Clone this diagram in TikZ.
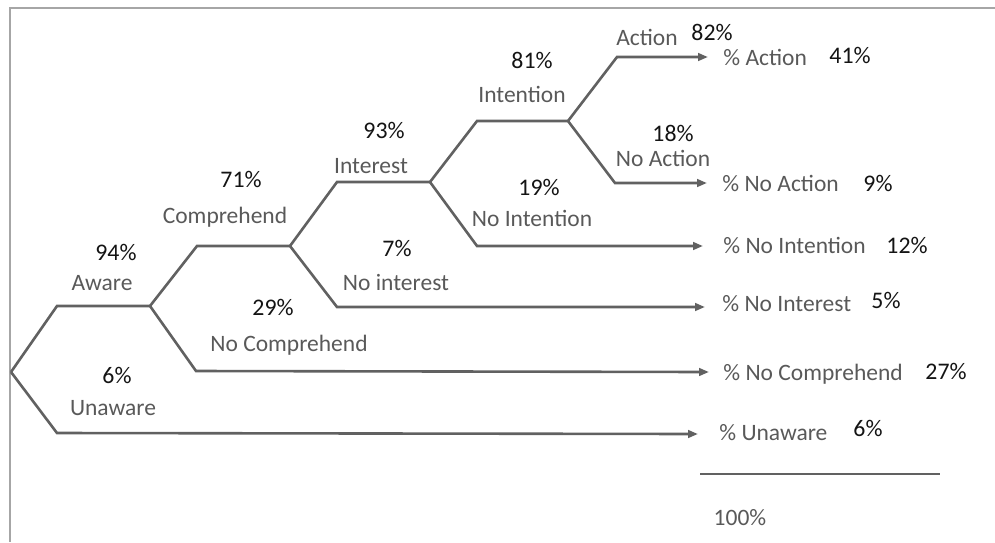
\documentclass[tikz,border=0pt]{standalone}
\usepackage{fontspec}
\setmainfont{Carlito}
\usetikzlibrary{arrows.meta}
\begin{document}
\begin{tikzpicture}[x=0.5pt,y=-0.5pt,
  frame/.style={draw=black!35, line width=0.8pt},
  branch/.style={draw=black!62, line width=1.3pt, line join=miter},
  arr/.style={branch, -{Triangle[length=5pt,width=3.8pt]}},
  word/.style={text=black!65, font=\fontsize{11.75}{14}\selectfont, inner sep=0pt, anchor=base},
  pct/.style={text=black!92, font=\fontsize{11.9}{14}\selectfont, inner sep=0pt, anchor=base},
  wordw/.style={word, anchor=base west},
]
\useasboundingbox (0,0) rectangle (995,542);
\coordinate (tl) at (10,8);
\coordinate (tr) at (995,8);
\coordinate (bl) at (10,542);
\draw[frame] (tr) -- (tl) -- (bl);

% tree vertices
\coordinate (root) at (11,372);
\coordinate (aw1) at (57,306);  \coordinate (aw2) at (150,306);
\coordinate (un1) at (57,433);  \coordinate (unE) at (698,434);
\coordinate (co1) at (197,246); \coordinate (co2) at (290,246);
\coordinate (nc1) at (196,371); \coordinate (ncE) at (709,372);
\coordinate (in1) at (337,182); \coordinate (in2) at (430,182);
\coordinate (ni1) at (337,307); \coordinate (niE) at (705,307);
\coordinate (it1) at (477,121); \coordinate (it2) at (568,121);
\coordinate (nt1) at (477,246); \coordinate (ntE) at (703,246);
\coordinate (ac1) at (617,57);  \coordinate (acE) at (708,57);
\coordinate (na1) at (615,183); \coordinate (naE) at (707,183);

\draw[branch] (root) -- (aw1) -- (aw2);
\draw[arr] (root) -- (un1) -- (unE);
\draw[branch] (aw2) -- (co1) -- (co2);
\draw[arr] (aw2) -- (nc1) -- (ncE);
\draw[branch] (co2) -- (in1) -- (in2);
\draw[arr] (co2) -- (ni1) -- (niE);
\draw[branch] (in2) -- (it1) -- (it2);
\draw[arr] (in2) -- (nt1) -- (ntE);
\draw[arr] (it2) -- (ac1) -- (acE);
\draw[arr] (it2) -- (na1) -- (naE);

% branch labels
\node[pct]  (p94) at (116,260) {94\%};
\node[word] (lAware) at (102,290) {Aware};
\node[pct]  (p71) at (241,187) {71\%};
\node[word] (lComp) at (225,223) {Comprehend};
\node[pct]  (p93) at (384,138) {93\%};
\node[word] (lInt) at (371,173) {Interest};
\node[pct]  (p81) at (532,68) {81\%};
\node[word] (lIntn) at (522,102) {Intention};
\node[word] (lAct) at (647,45) {Action};
\node[pct]  (p82) at (712,40) {82\%};
\node[pct]  (p18) at (673,141) {18\%};
\node[word] (lNoAct) at (663,166) {No Action};
\node[pct]  (p19) at (539,195) {19\%};
\node[word] (lNoIntn) at (532,226) {No Intention};
\node[pct]  (p7) at (397,256) {7\%};
\node[word] (lNoInt) at (396,290) {No interest};
\node[pct]  (p29) at (273,315) {29\%};
\node[word] (lNoComp) at (289,351) {No Comprehend};
\node[pct]  (p6) at (117,383) {6\%};
\node[word] (lUnaw) at (113,415) {Unaware};

% outcome labels
\node[wordw] (oAct) at (723,65) {\% Action};
\node[pct]   (o41) at (850,63) {41\%};
\node[wordw] (oNoAct) at (722,191) {\% No Action};
\node[pct]   (o9) at (878,191) {9\%};
\node[wordw] (oNoIntn) at (723,253) {\% No Intention};
\node[pct]   (o12) at (907,253) {12\%};
\node[wordw] (oNoInt) at (722,311) {\% No Interest};
\node[pct]   (o5) at (886,308) {5\%};
\node[wordw] (oNoComp) at (723,380) {\% No Comprehend};
\node[pct]   (o27) at (946,379) {27\%};
\node[wordw] (oUnaw) at (719,440) {\% Unaware};
\node[pct]   (o6) at (868,436) {6\%};

\coordinate (sumL) at (700,474);
\coordinate (sumR) at (940,474);
\draw[branch] (sumL) -- (sumR);
\node[word] (tot) at (740,525) {100\%};
\end{tikzpicture}
\end{document}
